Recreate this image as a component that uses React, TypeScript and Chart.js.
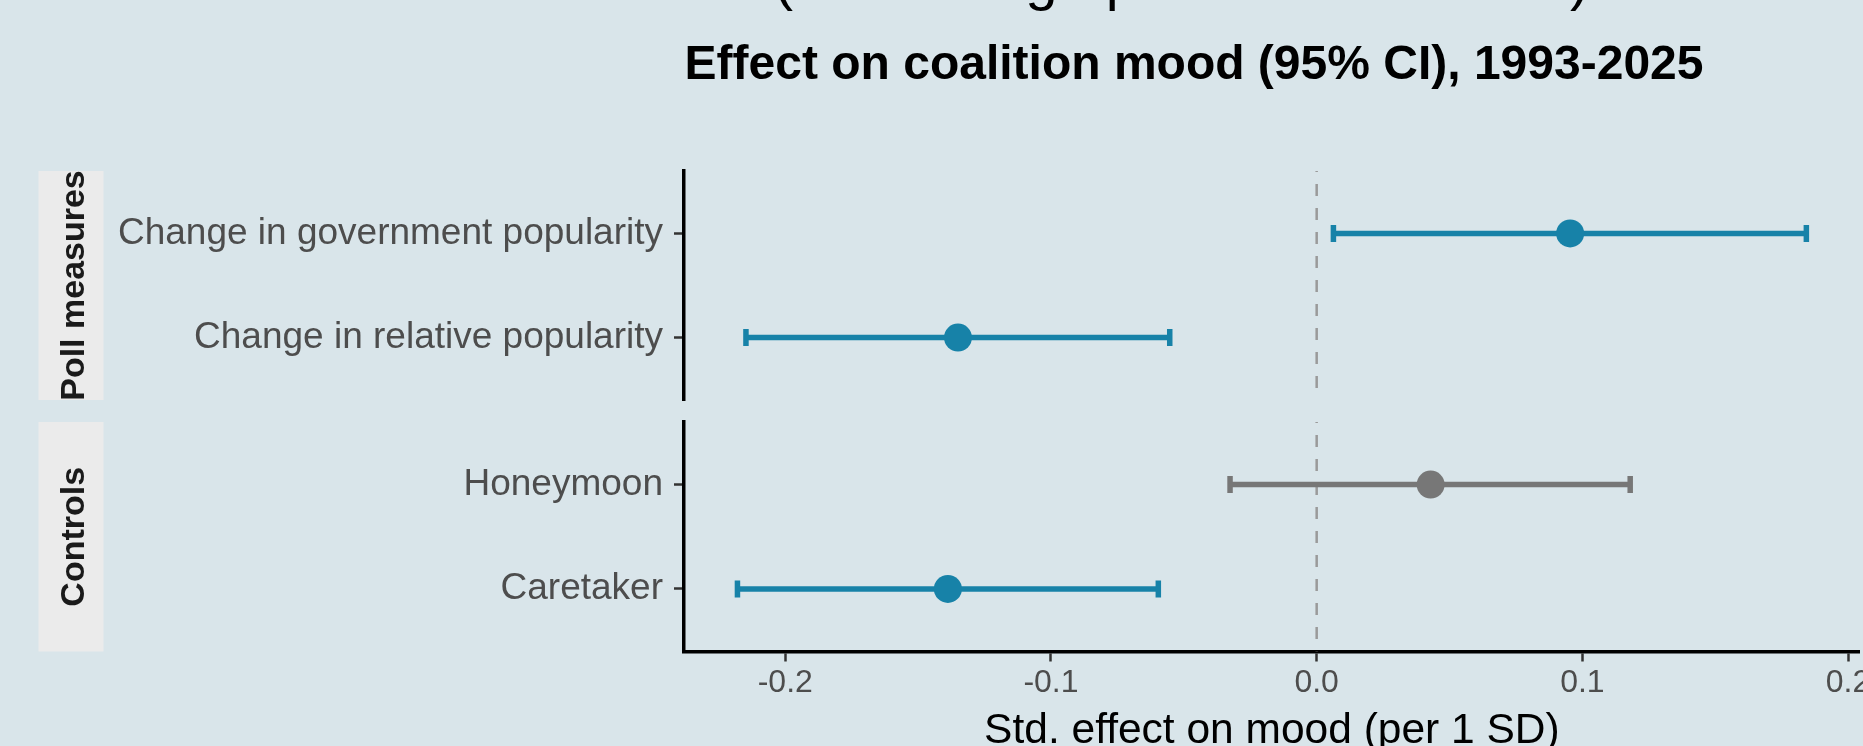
import React, { useEffect, useRef } from 'react';
import { Chart, registerables } from 'chart.js';

Chart.register(...registerables);

const FONT = "'Liberation Sans', Arial, Helvetica, sans-serif";

// ---- data ----
const pollLabels = ['Change in government popularity', 'Change in relative popularity'];
const pollEstimate = [0.0954, -0.135];
const pollLow = [0.0063, -0.2148];
const pollHigh = [0.1843, -0.0553];

const controlLabels = ['Honeymoon', 'Caretaker'];
const controlEstimate = [0.0429, -0.1388];
const controlLow = [-0.0326, -0.218];
const controlHigh = [0.118, -0.0596];

const xTickValues = [-0.2, -0.1, 0.0, 0.1, 0.2];

const titleText = 'Effect on coalition mood (95% CI), 1993-2025';
const subtitleText = '(Net change per 1 SD increase)';
const xTitleText = 'Std. effect on mood (per 1 SD)';
const pollStrip = 'Poll measures';
const controlStrip = 'Controls';

// ---- derived ranges (ggplot-like 5% expansion) ----
const allLow = [...pollLow, ...controlLow];
const allHigh = [...pollHigh, ...controlHigh];
const dMin = Math.min(...allLow);
const dMax = Math.max(...allHigh);
const dSpan = dMax - dMin;
const X_MIN = dMin - 0.05 * dSpan;
const X_MAX = dMax + 0.05 * dSpan;

const SIG = '#1782A8';
const NS = '#777777';
const colorFor = (lo: number, hi: number) => (lo > 0 || hi < 0 ? SIG : NS);

const W = 1863;
const H = 746;
const Y_AXIS_W = 684;
const RIGHT_PAD = 3.2;

function buildDatasets(est: number[], lo: number[], hi: number[], nRows: number) {
  const colors = est.map((_, i) => colorFor(lo[i], hi[i]));
  const ds: any[] = [];
  ds.push({
    type: 'scatter',
    label: 'estimate',
    data: est.map((v, i) => ({ x: v, y: i })),
    pointRadius: 14,
    pointHoverRadius: 14,
    pointBackgroundColor: colors,
    pointBorderColor: colors,
    pointBorderWidth: 0,
    order: 0,
  });
  ds.push({
    type: 'scatter',
    label: 'caps',
    data: est.flatMap((_, i) => [
      { x: lo[i], y: i },
      { x: hi[i], y: i },
    ]),
    pointStyle: 'line',
    pointRotation: 90,
    pointRadius: 8.5,
    pointHoverRadius: 8.5,
    pointBorderWidth: 5.5,
    pointBorderColor: est.flatMap((_, i) => [colors[i], colors[i]]),
    pointBackgroundColor: est.flatMap((_, i) => [colors[i], colors[i]]),
    order: 1,
  });
  est.forEach((_, i) => {
    ds.push({
      type: 'line',
      label: 'ci' + i,
      data: [
        { x: lo[i], y: i },
        { x: hi[i], y: i },
      ],
      borderColor: colors[i],
      borderWidth: 5.5,
      pointRadius: 0,
      order: 2,
    });
  });
  ds.push({
    type: 'line',
    label: 'zero',
    data: [
      { x: 0, y: -0.6 },
      { x: 0, y: nRows - 1 + 0.6 },
    ],
    borderColor: '#9A9A9A',
    borderWidth: 2.5,
    borderDash: [12, 12],
    borderDashOffset: 11,
    pointRadius: 0,
    order: 3,
  });
  return ds;
}

function stripPlugin(id: string, text: string) {
  return {
    id,
    afterDraw(chart: any) {
      const { ctx, chartArea } = chart;
      const { top, bottom } = chartArea;
      ctx.save();
      ctx.fillStyle = '#EBEBEB';
      ctx.fillRect(38.5, top, 65, bottom - top);
      ctx.translate(83.5, (top + bottom) / 2);
      ctx.rotate(-Math.PI / 2);
      ctx.font = `bold 34px ${FONT}`;
      ctx.fillStyle = '#1A1A1A';
      ctx.textAlign = 'center';
      ctx.textBaseline = 'alphabetic';
      ctx.fillText(text, 0, 0);
      ctx.restore();
    },
  };
}

const headerPlugin = {
  id: 'header',
  afterDraw(chart: any) {
    const { ctx } = chart;
    ctx.save();
    ctx.fillStyle = '#000000';
    ctx.textAlign = 'center';
    ctx.textBaseline = 'alphabetic';
    ctx.font = `58px ${FONT}`;
    ctx.fillText(subtitleText, 1181.5, -1);
    ctx.font = `bold 48px ${FONT}`;
    ctx.fillText(titleText, 1194, 79);
    ctx.restore();
  },
};

function yScale(labels: string[]) {
  return {
    type: 'linear',
    reverse: true,
    min: -0.6,
    max: labels.length - 1 + 0.6,
    afterBuildTicks: (s: any) => {
      s.ticks = labels.map((_, i) => ({ value: i }));
    },
    afterFit: (s: any) => {
      s.width = Y_AXIS_W;
      s.paddingTop = 0;
      s.paddingBottom = 0;
    },
    ticks: {
      autoSkip: false,
      callback: (v: any) => labels[v],
      font: { family: FONT, size: 37 },
      color: '#4D4D4D',
      padding: 11,
    },
    grid: {
      drawOnChartArea: false,
      drawTicks: true,
      tickLength: 10,
      tickColor: '#333333',
      tickWidth: 2.5,
    },
    border: { display: true, color: '#000000', width: 3.5 },
  };
}

export default function App() {
  const topRef = useRef<HTMLCanvasElement | null>(null);
  const botRef = useRef<HTMLCanvasElement | null>(null);

  useEffect(() => {
    const top = new Chart(topRef.current as HTMLCanvasElement, {
      type: 'scatter',
      data: { datasets: buildDatasets(pollEstimate, pollLow, pollHigh, pollLabels.length) },
      options: {
        responsive: false,
        animation: false,
        events: [],
        layout: { autoPadding: false, padding: { top: 171, bottom: H - 400, left: 0, right: RIGHT_PAD } },
        plugins: { legend: { display: false }, tooltip: { enabled: false } },
        scales: {
          x: { type: 'linear', display: false, min: X_MIN, max: X_MAX },
          y: yScale(pollLabels) as any,
        },
      },
      plugins: [headerPlugin, stripPlugin('stripTop', pollStrip)],
    } as any);

    const bottom = new Chart(botRef.current as HTMLCanvasElement, {
      type: 'scatter',
      data: { datasets: buildDatasets(controlEstimate, controlLow, controlHigh, controlLabels.length) },
      options: {
        responsive: false,
        animation: false,
        events: [],
        layout: { autoPadding: false, padding: { top: 422, bottom: 0, left: 0, right: RIGHT_PAD } },
        plugins: { legend: { display: false }, tooltip: { enabled: false } },
        scales: {
          x: {
            type: 'linear',
            position: 'bottom',
            min: X_MIN,
            max: X_MAX,
            afterBuildTicks: (s: any) => {
              s.ticks = xTickValues.map((v) => ({ value: v }));
            },
            afterFit: (s: any) => {
              s.height = 800 - 651.5;
              s.paddingLeft = 0;
              s.paddingRight = 0;
            },
            ticks: {
              autoSkip: false,
              maxRotation: 0,
              minRotation: 0,
              callback: (v: any) => Number(v).toFixed(1),
              font: { family: FONT, size: 32, lineHeight: 1.2 },
              color: '#4D4D4D',
              padding: 2,
            },
            grid: {
              drawOnChartArea: false,
              drawTicks: true,
              tickLength: 10,
              tickColor: '#333333',
              tickWidth: 2.5,
            },
            border: { display: true, color: '#000000', width: 3.5 },
            title: {
              display: true,
              text: xTitleText,
              color: '#000000',
              font: { family: FONT, size: 42.5, lineHeight: 1 },
              padding: { top: 0, bottom: 47.4 },
            },
          },
          y: yScale(controlLabels) as any,
        },
      },
      plugins: [stripPlugin('stripBottom', controlStrip)],
    } as any);

    return () => {
      top.destroy();
      bottom.destroy();
    };
  }, []);

  return (
    <div
      style={{
        position: 'fixed',
        left: 0,
        top: 0,
        width: W,
        height: H,
        overflow: 'hidden',
        background: '#D9E5EA',
      }}
    >
      <canvas ref={topRef} width={W} height={H} style={{ position: 'absolute', left: 0, top: 0 }} />
      <canvas ref={botRef} width={W} height={800} style={{ position: 'absolute', left: 0, top: 0 }} />
    </div>
  );
}
